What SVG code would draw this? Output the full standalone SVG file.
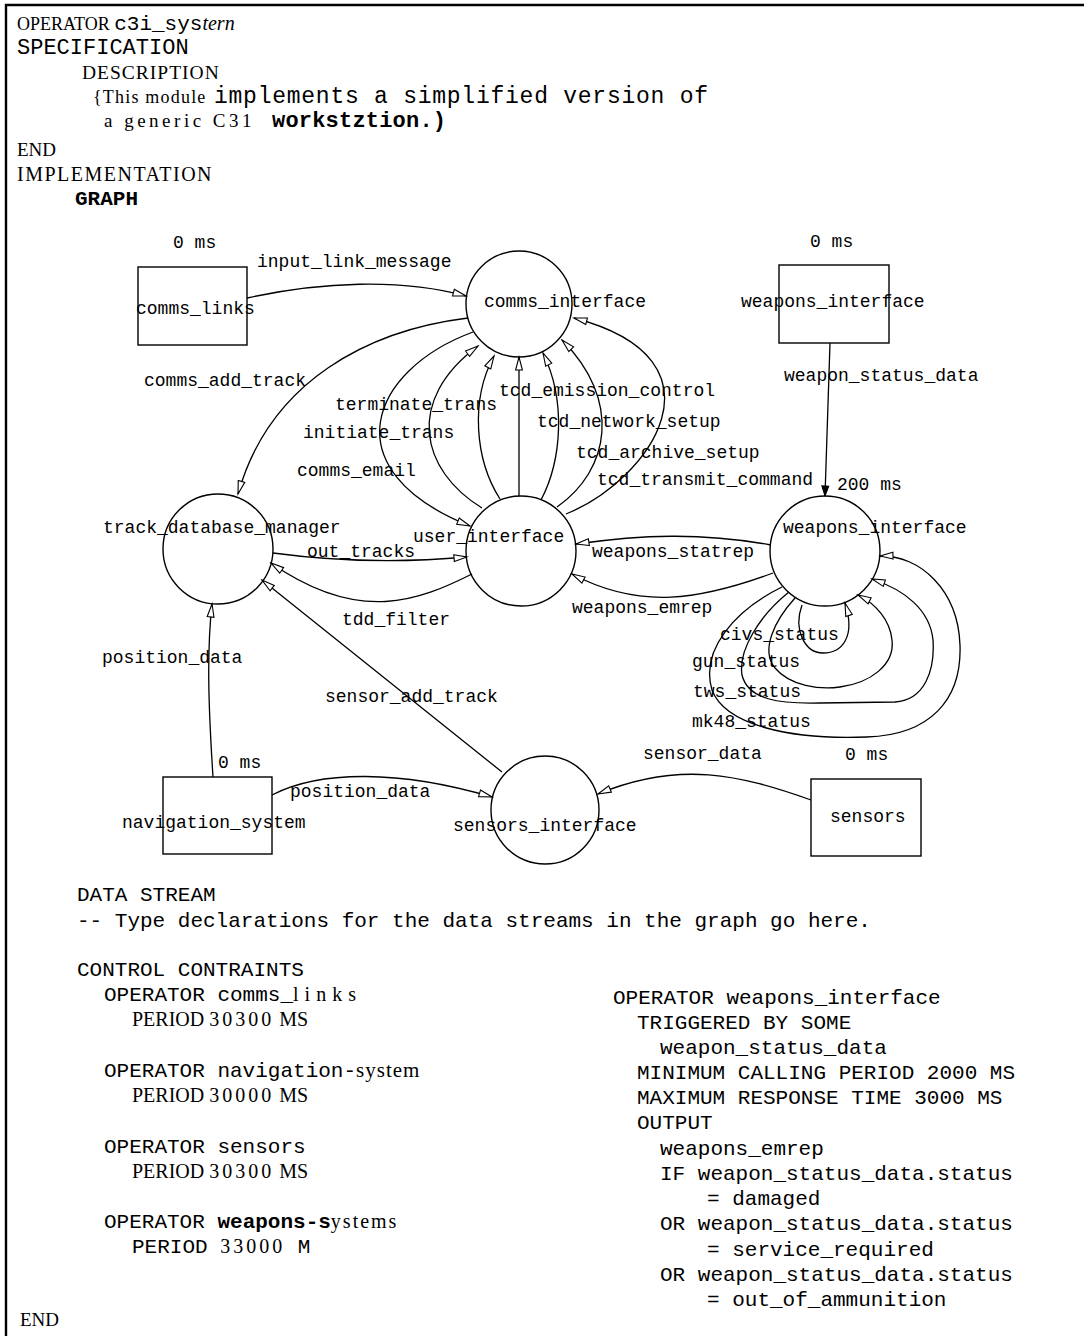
<svg xmlns="http://www.w3.org/2000/svg" width="1084" height="1336" viewBox="0 0 1084 1336">
<style>
.m{font-family:"Liberation Mono","DejaVu Sans Mono",monospace;fill:#000}
.s{font-family:"Liberation Serif","DejaVu Serif",serif;fill:#000}
.g{font-family:"Liberation Mono","DejaVu Sans Mono",monospace;font-size:18px;fill:#000}
.b{font-family:"Liberation Mono","DejaVu Sans Mono",monospace;font-size:21px;fill:#000}
.node{fill:none;stroke:#000;stroke-width:1.4}
.edge{fill:none;stroke:#000;stroke-width:1.3;marker-end:url(#ah)}
</style>
<defs>
<marker id="ah" markerUnits="userSpaceOnUse" markerWidth="16" markerHeight="10" viewBox="-1 -1 16 10" refX="13" refY="4" orient="auto">
<path d="M0,0.6 L13,4 L0,7.4 Z" fill="#fff" stroke="#000" stroke-width="1.1"/>
</marker>
<marker id="af" markerUnits="userSpaceOnUse" markerWidth="12" markerHeight="10" viewBox="-1 -1 12 10" refX="10" refY="4" orient="auto">
<path d="M0,0.5 L10,4 L0,7.5 Z" fill="#000" stroke="#000" stroke-width="1"/>
</marker>
</defs>
<rect width="1084" height="1336" fill="#fff"/>
<path d="M6,1336 L6,5 L1084,5" fill="none" stroke="#000" stroke-width="2.4"/>

<g id="header">
<text x="17" y="30"><tspan class="s" font-size="18">OPERATOR </tspan><tspan class="m" font-size="21">c3i_sys</tspan><tspan class="s" font-size="20" font-style="italic">tern</tspan></text>
<text class="m" x="17" y="54" font-size="22">SPECIFICATION</text>
<text class="s" x="82" y="79" font-size="19.5" letter-spacing="1">DESCRIPTION</text>
<text class="s" x="93" y="103" font-size="18" letter-spacing="1.2">{This module</text>
<text class="m" x="214" y="103" font-size="23" textLength="494" lengthAdjust="spacing">implements a simplified version of</text>
<text class="s" x="104" y="127" font-size="19" letter-spacing="3.5">a generic C31</text>
<text class="m" x="272" y="127" font-size="22" font-weight="bold" textLength="174" lengthAdjust="spacing">workstztion.)</text>
<text class="s" x="17" y="156" font-size="19">END</text>
<text class="s" x="17" y="181" font-size="20" letter-spacing="1.5">IMPLEMENTATION</text>
<text class="m" x="75" y="205" font-size="21" font-weight="bold">GRAPH</text>
</g>

<g id="connectors">
<g id="e-input_link_message"><path class="edge" d="M247,298 C320,282 400,278 466,296"/><text class="g" x="257" y="267">input_link_message</text></g>
<g id="e-comms_add_track"><path class="edge" d="M468,318 C370,330 270,380 238,494"/><text class="g" x="144" y="386">comms_add_track</text></g>
<g id="e-comms_email"><path class="edge" d="M473,332 C370,370 330,470 470,526"/><text class="g" x="297" y="476">comms_email</text></g>
<g id="e-initiate_trans"><path class="edge" d="M482,508 C420,470 405,400 478,346"/><text class="g" x="303" y="438">initiate_trans</text></g>
<g id="e-terminate_trans"><path class="edge" d="M500,499 C475,460 470,400 494,356"/><text class="g" x="335" y="410">terminate_trans</text></g>
<g id="e-tcd_emission_control"><path class="edge" d="M519,496 L519,357"/><text class="g" x="499" y="396">tcd_emission_control</text></g>
<g id="e-tcd_network_setup"><path class="edge" d="M541,500 C562,460 566,400 543,353"/><text class="g" x="537" y="427">tcd_network_setup</text></g>
<g id="e-tcd_archive_setup"><path class="edge" d="M557,507 C610,470 622,400 562,340"/><text class="g" x="576" y="458">tcd_archive_setup</text></g>
<g id="e-tcd_transmit_command"><path class="edge" d="M566,514 C650,480 734,360 574,318"/><text class="g" x="597" y="485">tcd_transmit_command</text></g>
<g id="e-out_tracks"><path class="edge" d="M273,553 C340,562 400,563 467,557"/><text class="g" x="307" y="557">out_tracks</text></g>
<g id="e-tdd_filter"><path class="edge" d="M472,574 C420,600 360,625 271,563"/><text class="g" x="342" y="625">tdd_filter</text></g>
<g id="e-sensor_add_track"><path class="edge" d="M502,772 L262,580"/><text class="g" x="325" y="702">sensor_add_track</text></g>
<g id="e-position_data_tdm"><path class="edge" d="M213,777 C208,700 207,650 212,604"/><text class="g" x="102" y="663">position_data</text></g>
<g id="e-position_data_si"><path class="edge" d="M272,795 C320,770 400,770 492,797"/><text class="g" x="290" y="797">position_data</text></g>
<g id="e-sensor_data"><path class="edge" d="M811,800 C740,775 680,760 598,794"/><text class="g" x="643" y="759">sensor_data</text></g>
<g id="e-weapon_status_data"><path d="M830,343 L825,496" fill="none" stroke="#000" stroke-width="1.3" marker-end="url(#af)"/><text class="g" x="784" y="381">weapon_status_data</text></g>
<g id="e-weapons_statrep"><path class="edge" d="M771,545 C700,532 640,535 576,544"/><text class="g" x="592" y="557">weapons_statrep</text></g>
<g id="e-weapons_emrep"><path class="edge" d="M773,573 C700,600 640,610 572,574"/><text class="g" x="572" y="613">weapons_emrep</text></g>
<g id="e-civs_status"><path class="edge" d="M802,605 C793,630 805,653 823,653 C842,653 856,637 845,603"/><text class="g" x="720" y="640">civs_status</text></g>
<g id="e-gun_status"><path class="edge" d="M795,598 C775,620 760,650 775,668 C790,686 820,690 840,687 C870,683 895,665 892,640 C890,620 876,604 858,595"/><text class="g" x="692" y="667">gun_status</text></g>
<g id="e-tws_status"><path class="edge" d="M789,592 C760,615 738,650 742,675 C748,700 780,704 820,703 L895,702 C925,700 935,670 933,640 C930,610 905,590 872,579"/><text class="g" x="693" y="697">tws_status</text></g>
<g id="e-mk48_status"><path class="edge" d="M782,587 C735,610 700,650 712,690 C725,725 790,740 867,737 C930,735 962,700 960,645 C958,590 920,555 880,556"/><text class="g" x="692" y="727">mk48_status</text></g>
</g>

<g id="comms_links"><rect class="node" x="138" y="267" width="109" height="78"/><text class="g" x="136" y="314">comms_links</text><text class="g" x="173" y="248">0 ms</text></g>
<g id="comms_interface"><circle class="node" cx="519" cy="304" r="53"/><text class="g" x="484" y="307">comms_interface</text></g>
<g id="weapons_interface_box"><rect class="node" x="779" y="265" width="110" height="78"/><text class="g" x="741" y="307">weapons_interface</text><text class="g" x="810" y="247">0 ms</text></g>
<g id="track_database_manager"><circle class="node" cx="218" cy="549" r="55"/><text class="g" x="103" y="533">track_database_manager</text></g>
<g id="user_interface"><circle class="node" cx="521" cy="551" r="55"/><text class="g" x="413" y="542">user_interface</text></g>
<g id="weapons_interface"><circle class="node" cx="825" cy="551" r="55"/><text class="g" x="783" y="533">weapons_interface</text><text class="g" x="837" y="490">200 ms</text></g>
<g id="navigation_system"><rect class="node" x="163" y="777" width="109" height="77"/><text class="g" x="122" y="828">navigation_system</text><text class="g" x="218" y="768">0 ms</text></g>
<g id="sensors_interface"><circle class="node" cx="545" cy="810" r="54"/><text class="g" x="453" y="831">sensors_interface</text></g>
<g id="sensors"><rect class="node" x="811" y="779" width="110" height="77"/><text class="g" x="830" y="822">sensors</text><text class="g" x="845" y="760">0 ms</text></g>

<g id="body">
<text class="b" x="77" y="901">DATA STREAM</text>
<text class="b" x="77" y="927">-- Type declarations for the data streams in the graph go here.</text>
<text class="b" x="77" y="976">CONTROL CONTRAINTS</text>
<text x="104" y="1001"><tspan class="b">OPERATOR comms_</tspan><tspan class="s" font-size="20" letter-spacing="6">links</tspan></text>
<text x="132" y="1026" class="s" font-size="20">PERIOD <tspan letter-spacing="3">30300</tspan> MS</text>
<text x="104" y="1077"><tspan class="b">OPERATOR navigation-</tspan><tspan class="s" font-size="21" letter-spacing="1">system</tspan></text>
<text x="132" y="1102" class="s" font-size="20">PERIOD <tspan letter-spacing="3">30000</tspan> MS</text>
<text class="b" x="104" y="1153">OPERATOR sensors</text>
<text x="132" y="1178" class="s" font-size="20">PERIOD <tspan letter-spacing="3">30300</tspan> MS</text>
<text x="104" y="1228"><tspan class="b">OPERATOR </tspan><tspan class="b" font-weight="bold">weapons-s</tspan><tspan class="s" font-size="20" letter-spacing="2">ystems</tspan></text>
<text x="132" y="1253"><tspan class="b">PERIOD </tspan><tspan class="s" font-size="20" letter-spacing="3">33000</tspan><tspan class="b"> M</tspan></text>
<text class="s" x="20" y="1326" font-size="19">END</text>
<text class="b" x="613" y="1004">OPERATOR weapons_interface</text>
<text class="b" x="637" y="1029">TRIGGERED BY SOME</text>
<text class="b" x="660" y="1054">weapon_status_data</text>
<text class="b" x="637" y="1079">MINIMUM CALLING PERIOD 2000 MS</text>
<text class="b" x="637" y="1104">MAXIMUM RESPONSE TIME 3000 MS</text>
<text class="b" x="637" y="1129">OUTPUT</text>
<text class="b" x="660" y="1155">weapons_emrep</text>
<text class="b" x="660" y="1180">IF weapon_status_data.status</text>
<text class="b" x="707" y="1205">= damaged</text>
<text class="b" x="660" y="1230">OR weapon_status_data.status</text>
<text class="b" x="707" y="1256">= service_required</text>
<text class="b" x="660" y="1281">OR weapon_status_data.status</text>
<text class="b" x="707" y="1306">= out_of_ammunition</text>
</g>
</svg>
